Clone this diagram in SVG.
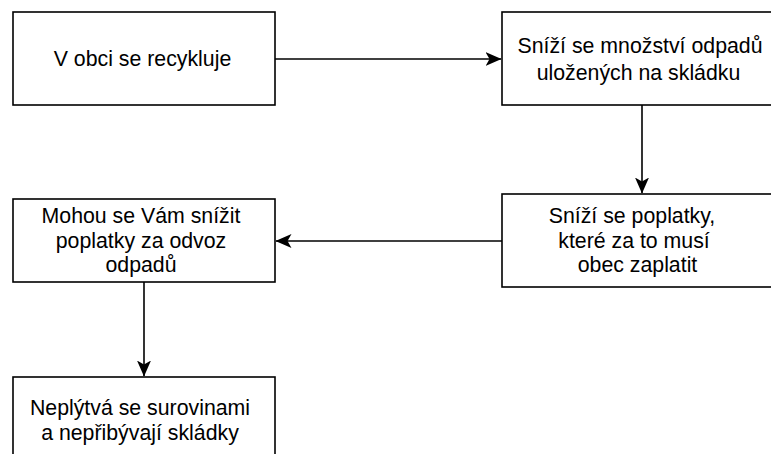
<svg xmlns="http://www.w3.org/2000/svg" width="771" height="454" viewBox="0 0 771 454">
<style>
.box{fill:#fff;stroke:#000;stroke-width:1.6}
.t{font-family:"Liberation Sans",Arial,sans-serif;font-size:21.3px;fill:#000;text-anchor:middle}
.c{fill:none;stroke:#000;stroke-width:1.6}
</style>
<defs>
<marker id="ah" viewBox="0 0 16 14" refX="15.5" refY="7" markerWidth="16" markerHeight="14" markerUnits="userSpaceOnUse" orient="auto">
<path d="M0,0 L16,7 L0,14 L4,7 Z" fill="#000"/>
</marker>
</defs>
<rect width="771" height="454" fill="#fff"/>
<g id="connectors">
<line class="c" x1="275" y1="59" x2="501" y2="59" marker-end="url(#ah)"/>
<line class="c" x1="642" y1="105" x2="642" y2="193" marker-end="url(#ah)"/>
<line class="c" x1="502" y1="241" x2="276" y2="241" marker-end="url(#ah)"/>
<line class="c" x1="144" y1="282" x2="144" y2="376" marker-end="url(#ah)"/>
</g>
<g id="n1">
<rect class="box" x="13" y="12" width="262" height="93"/>
<text class="t" x="142.5" y="66">V obci se recykluje</text>
</g>
<g id="n2">
<rect class="box" x="502" y="12" width="280" height="93"/>
<text class="t" x="640" y="53">Sníží se množství odpadů</text>
<text class="t" x="638.5" y="79.5">uložených na skládku</text>
</g>
<g id="n3">
<rect class="box" x="502" y="194" width="280" height="93"/>
<text class="t" x="632" y="223">Sníží se poplatky,</text>
<text class="t" x="634" y="247.5">které za to musí</text>
<text class="t" x="637.5" y="272">obec zaplatit</text>
</g>
<g id="n4">
<rect class="box" x="13" y="199" width="262" height="83"/>
<text class="t" x="141" y="223">Mohou se Vám snížit</text>
<text class="t" x="141" y="248">poplatky za odvoz</text>
<text class="t" x="141" y="272">odpadů</text>
</g>
<g id="n5">
<rect class="box" x="13" y="377" width="262" height="90"/>
<text class="t" x="140" y="415">Neplýtvá se surovinami</text>
<text class="t" x="140" y="440">a nepřibývají skládky</text>
</g>
</svg>
